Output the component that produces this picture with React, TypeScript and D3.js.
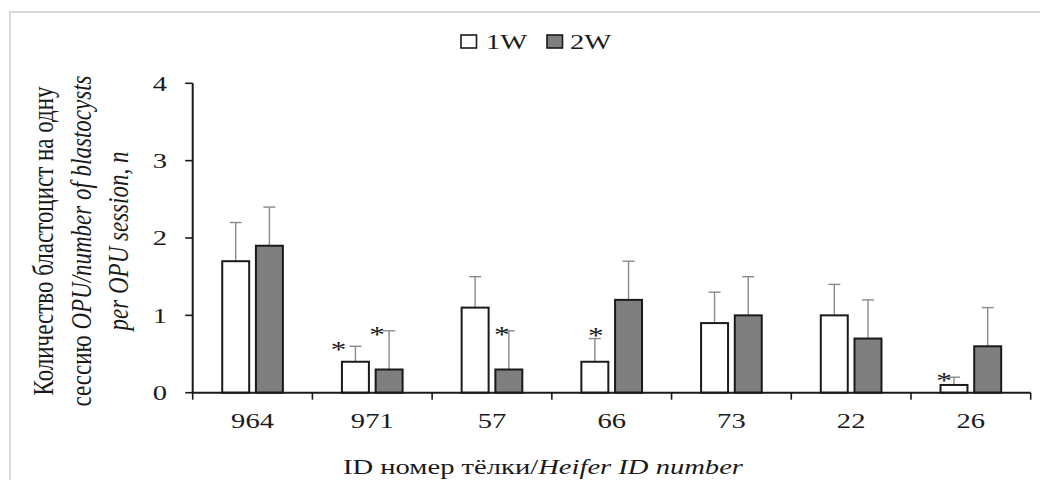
import React from 'react';
import * as d3 from 'd3';

const categories = ['964', '971', '57', '66', '73', '22', '26'];
const seriesNames = ['1W', '2W'];
const mean1W = [1.7, 0.4, 1.1, 0.4, 0.9, 1.0, 0.1];
const err1W = [0.5, 0.2, 0.4, 0.3, 0.4, 0.4, 0.1];
const mean2W = [1.9, 0.3, 0.3, 1.2, 1.0, 0.7, 0.6];
const err2W = [0.5, 0.5, 0.5, 0.5, 0.5, 0.5, 0.5];
const yTicks = [0, 1, 2, 3, 4];
const significant = [
  { cat: '971', s: '1W' },
  { cat: '971', s: '2W' },
  { cat: '57', s: '2W' },
  { cat: '66', s: '1W' },
  { cat: '26', s: '1W' },
];

// layout-only offsets for asterisks (px)
const starOffsets = [
  [-17, 0],
  [-12, 0],
  [-7, 0],
  [1, -7],
  [-10, 0],
];

const W = 1040;
const H = 480;
const SX = 1.3; // horizontal stretch of the original picture
const FONT = '"Liberation Serif", "Times New Roman", serif';
const INK = '#1a1a1a';
const FILLS: Record<string, string> = { '1W': '#ffffff', '2W': '#7f7f7f' };

export default function App() {
  const x = d3.scaleBand<string>().domain(categories).range([192.7, 1030.7]).padding(0);
  const inner = d3
    .scaleBand<string>()
    .domain(seriesNames)
    .range([0, x.bandwidth()])
    .paddingInner(0.2)
    .paddingOuter(0.876);
  const y = d3.scaleLinear().domain([0, 4]).range([392.7, 83.3]);

  const data = seriesNames.map((s) => ({
    s,
    values: categories.map((c, i) => ({
      c,
      v: s === '1W' ? mean1W[i] : mean2W[i],
      e: s === '1W' ? err1W[i] : err2W[i],
    })),
  }));

  const barX = (c: string, s: string) => (x(c) as number) + (inner(s) as number);
  const bw = inner.bandwidth();
  const x0 = x.range()[0];
  const x1 = x.range()[1];
  const boundaries = [...categories.map((c) => x(c) as number), x1];

  const stretched = (tx: number, ty: number, extra = '') =>
    `translate(${tx},${ty}) scale(${SX},1)${extra ? ' ' + extra : ''}`;

  return (
    <svg
      width={W}
      height={H}
      style={{ position: 'absolute', left: 0, top: 0, background: '#fff' }}
      fontFamily={FONT}
    >
      <rect x={0} y={0} width={W} height={H} fill="#fff" />
      <rect x={10} y={12} width={W + 10} height={H + 10} fill="none" stroke="#d9d9d9" strokeWidth={2} />

      {/* legend */}
      <g>
        <rect x={461} y={35} width={15.5} height={13} fill={FILLS['1W']} stroke={INK} strokeWidth={1.6} />
        <text transform={stretched(486, 49)} fontSize={22} fill={INK}>1W</text>
        <rect x={547} y={35} width={15.5} height={13} fill={FILLS['2W']} stroke={INK} strokeWidth={1.6} />
        <text transform={stretched(570, 49)} fontSize={22} fill={INK}>2W</text>
      </g>

      {/* error bars */}
      {data.map((d) =>
        d.values.map((p) => {
          const cx = barX(p.c, d.s) + bw / 2;
          const top = y(p.v + p.e);
          return (
            <g key={`e-${d.s}-${p.c}`} stroke="#8a8a8a" strokeWidth={1.4}>
              <line x1={cx} x2={cx} y1={y(p.v)} y2={top} />
              <line x1={cx - 6} x2={cx + 6} y1={top} y2={top} />
            </g>
          );
        })
      )}

      {/* bars */}
      {data.map((d) =>
        d.values.map((p) => (
          <rect
            key={`b-${d.s}-${p.c}`}
            x={barX(p.c, d.s)}
            y={y(p.v)}
            width={bw}
            height={y(0) - y(p.v)}
            fill={FILLS[d.s]}
            stroke={INK}
            strokeWidth={2}
          />
        ))
      )}

      {/* asterisks */}
      {significant.map((m, i) => {
        const si = seriesNames.indexOf(m.s);
        const ci = categories.indexOf(m.cat);
        const p = data[si].values[ci];
        const cx = barX(m.cat, m.s) + bw / 2 + starOffsets[i][0];
        const cy = y(p.v + p.e) + starOffsets[i][1];
        return (
          <text
            key={`s-${i}`}
            transform={stretched(cx, cy + 11)}
            fontSize={24}
            textAnchor="middle"
            fill={INK}
          >
            *
          </text>
        );
      })}

      {/* axes */}
      <g stroke={INK}>
        <line x1={x0} x2={x0} y1={y(4)} y2={y(0)} strokeWidth={2} />
        {yTicks.map((t) => (
          <line key={`yt-${t}`} x1={x0 - 7.5} x2={x0} y1={y(t)} y2={y(t)} strokeWidth={1.6} />
        ))}
        <line x1={x0 - 1} x2={x1} y1={y(0)} y2={y(0)} strokeWidth={2} />
        {boundaries.map((b, i) => (
          <line key={`xt-${i}`} x1={b} x2={b} y1={y(0)} y2={y(0) + 7} strokeWidth={1.6} />
        ))}
      </g>

      {yTicks.map((t) => (
        <text
          key={`yl-${t}`}
          transform={stretched(167, y(t))}
          fontSize={22}
          textAnchor="end"
          dominantBaseline="central"
          fill={INK}
        >
          {t}
        </text>
      ))}

      {categories.map((c) => (
        <text
          key={`xl-${c}`}
          transform={stretched((x(c) as number) + x.bandwidth() / 2, 428)}
          fontSize={22}
          textAnchor="middle"
          fill={INK}
        >
          {c}
        </text>
      ))}

      {/* x axis title */}
      <text transform={stretched(543, 474)} fontSize={22} textAnchor="middle" fill={INK}>
        <tspan>ID номер тёлки/</tspan>
        <tspan fontStyle="italic">Heifer ID number</tspan>
      </text>

      {/* y axis title */}
      <g fontSize={23} fill={INK} textAnchor="middle">
        <text transform={stretched(53, 241, 'rotate(-90)')}>
          Количество бластоцист  на одну
        </text>
        <text transform={stretched(91, 241, 'rotate(-90)')}>
          <tspan>сессию </tspan>
          <tspan fontStyle="italic">OPU/number of blastocysts</tspan>
        </text>
        <text transform={stretched(128, 241, 'rotate(-90)')} fontStyle="italic">
          per OPU session, n
        </text>
      </g>
    </svg>
  );
}
